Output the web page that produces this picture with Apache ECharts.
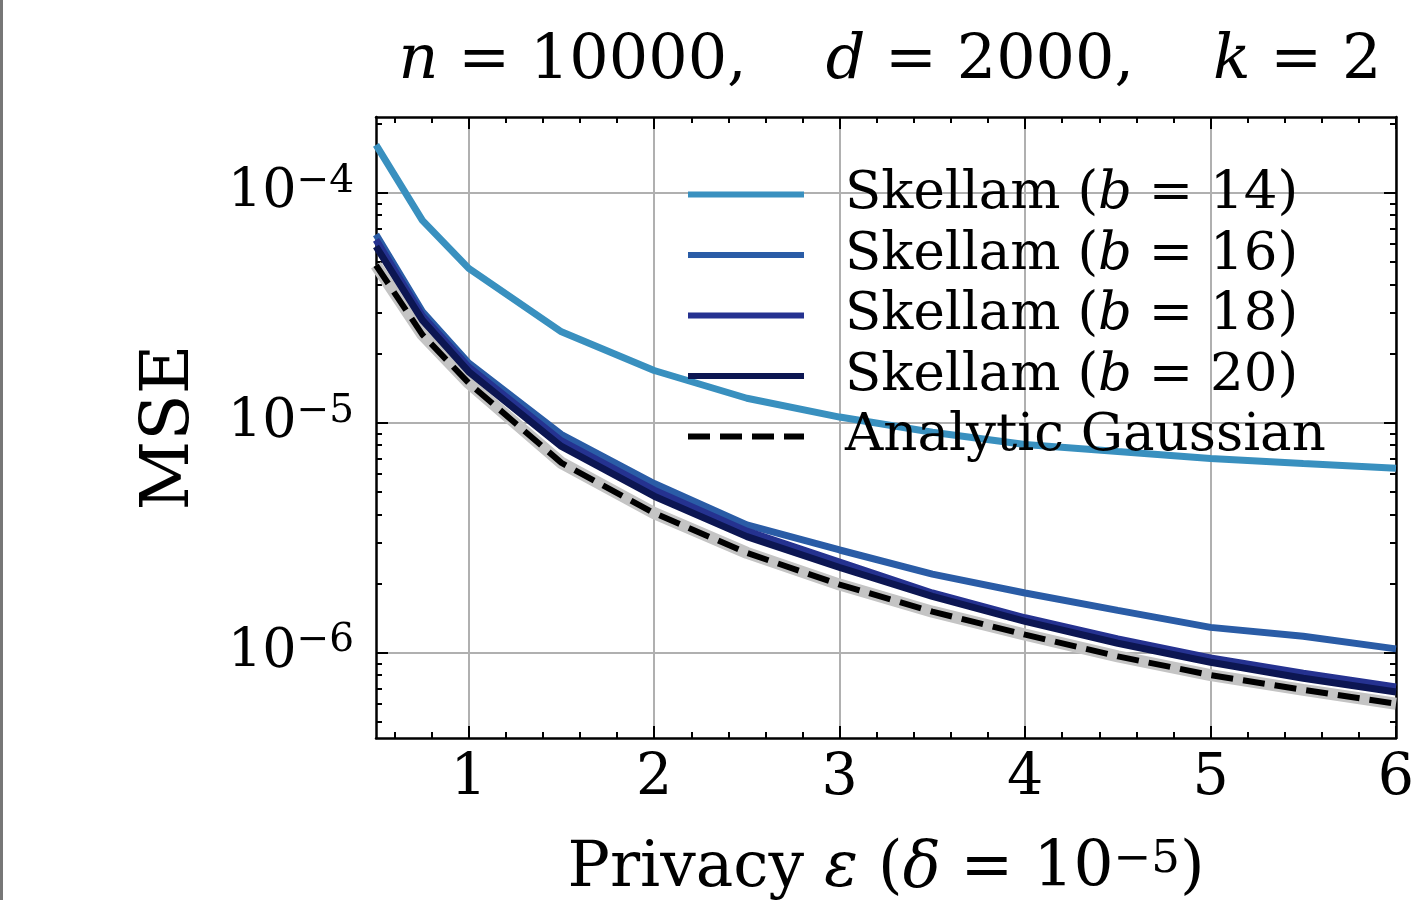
<!DOCTYPE html>
<html>

<head>
    <meta charset="utf-8">
    <script src="https://cdn.jsdelivr.net/npm/echarts@6/dist/echarts.min.js"></script>
</head>

<body style="margin: 0; background: #fff;">
<div id="echartsMain" style="width: 1419px; height: 900px;"></div>
</body>

</html>

<script type="text/javascript">
    // privacy epsilon values
    let eps = [0.5, 0.75, 1, 1.5, 2, 2.5, 3, 3.5, 4, 4.5, 5, 5.5, 6]

    let skellam14 = [1.62e-4, 7.6e-5, 4.7e-5, 2.49e-5, 1.69e-5, 1.28e-5, 1.06e-5, 9.1e-6, 8.05e-6, 7.5e-6, 7.0e-6, 6.65e-6, 6.35e-6]
    let skellam16 = [6.6e-5, 3.05e-5, 1.82e-5, 8.9e-6, 5.45e-6, 3.6e-6, 2.8e-6, 2.2e-6, 1.82e-6, 1.53e-6, 1.29e-6, 1.18e-6, 1.04e-6]
    let skellam18 = [6.25e-5, 2.92e-5, 1.75e-5, 8.35e-6, 5.1e-6, 3.38e-6, 2.48e-6, 1.82e-6, 1.42e-6, 1.15e-6, 9.5e-7, 8.15e-7, 7.1e-7]
    let skellam20 = [5.85e-5, 2.8e-5, 1.67e-5, 7.9e-6, 4.8e-6, 3.2e-6, 2.35e-6, 1.76e-6, 1.37e-6, 1.1e-6, 9.1e-7, 7.75e-7, 6.75e-7]
    let gaussian = [4.85e-5, 2.42e-5, 1.49e-5, 6.7e-6, 4.05e-6, 2.72e-6, 1.98e-6, 1.51e-6, 1.2e-6, 9.65e-7, 8.0e-7, 6.9e-7, 6.0e-7]

    let xMajor = [1, 2, 3, 4, 5, 6]
    let xMinor = [0.6, 0.8, 1.2, 1.4, 1.6, 1.8, 2.2, 2.4, 2.6, 2.8, 3.2, 3.4, 3.6, 3.8,
        4.2, 4.4, 4.6, 4.8, 5.2, 5.4, 5.6, 5.8]
    let yMajor = [1e-6, 1e-5, 1e-4]
    let yMinor = [5e-7, 6e-7, 7e-7, 8e-7, 9e-7,
        2e-6, 3e-6, 4e-6, 5e-6, 6e-6, 7e-6, 8e-6, 9e-6,
        2e-5, 3e-5, 4e-5, 5e-5, 6e-5, 7e-5, 8e-5, 9e-5, 2e-4]

    let names = ['Skellam (b = 14)', 'Skellam (b = 16)', 'Skellam (b = 18)', 'Skellam (b = 20)', 'Analytic Gaussian']
    let colors = ['#3990bf', '#2a5ca6', '#253290', '#0c1652', '#000000']

    function draw() {
        let myChart = echarts.init(document.getElementById('echartsMain'));
        let serif = 'DejaVu Serif'

        function pairs(ys) {
            return eps.map((x, i) => [x, ys[i]])
        }

        function xAxis(pos, ticks, len, main) {
            return {
                type: 'value', position: pos, min: 0.5, max: 6,
                axisLine: {show: main, onZero: false, lineStyle: {color: '#000', width: 2.5}},
                axisTick: {show: true, inside: true, length: len, customValues: ticks, lineStyle: {color: '#000', width: 2}},
                axisLabel: main && pos === 'bottom' ? {
                    customValues: xMajor, fontFamily: serif, fontSize: 57, color: '#000', margin: 13
                } : {show: false},
                splitLine: main && pos === 'bottom' ? {show: true, lineStyle: {color: '#b0b0b0', width: 2}} : {show: false}
            }
        }

        function yAxis(pos, ticks, len, main) {
            return {
                type: 'log', logBase: 10, position: pos, min: 4.26e-7, max: 2.14e-4,
                axisLine: {show: main, onZero: false, lineStyle: {color: '#000', width: 2.5}},
                axisTick: {show: true, inside: true, length: len, customValues: ticks, lineStyle: {color: '#000', width: 2}},
                axisLabel: main && pos === 'left' ? {
                    customValues: yMajor, margin: 22,
                    formatter: function (v) {
                        return '{b|10}{s|−' + Math.round(-Math.log10(v)) + '}'
                    },
                    rich: {
                        b: {fontFamily: serif, fontSize: 54, color: '#000', lineHeight: 62},
                        s: {fontFamily: serif, fontSize: 39, color: '#000', lineHeight: 36, verticalAlign: 'top'}
                    }
                } : {show: false},
                splitLine: main && pos === 'left' ? {show: true, lineStyle: {color: '#b0b0b0', width: 2}} : {show: false}
            }
        }

        let xAxes = [xAxis('bottom', xMajor, 12, true), xAxis('bottom', xMinor, 6, false),
            xAxis('top', xMajor, 12, true), xAxis('top', xMinor, 6, false)]
        xAxes[0].name = 'Privacy {i|ε} ({i|δ} = 10{s|−5})'
        xAxes[0].nameLocation = 'middle'
        xAxes[0].nameGap = 100
        xAxes[0].nameTextStyle = {
            fontFamily: serif, fontSize: 63, color: '#000',
            rich: {
                i: {fontFamily: serif, fontStyle: 'italic', fontSize: 63, color: '#000'},
                s: {fontFamily: serif, fontSize: 45, color: '#000', verticalAlign: 'top', lineHeight: 40}
            }
        }

        let yAxes = [yAxis('left', yMajor, 12, true), yAxis('left', yMinor, 6, false),
            yAxis('right', yMajor, 12, true), yAxis('right', yMinor, 6, false)]
        yAxes[0].name = 'MSE'
        yAxes[0].nameLocation = 'middle'
        yAxes[0].nameGap = 172
        yAxes[0].nameTextStyle = {fontFamily: serif, fontSize: 68, color: '#000'}

        let series = []
        let data = [skellam14, skellam16, skellam18, skellam20]
        // grey band under the analytic gaussian line
        series.push({
            name: 'band', type: 'line', data: pairs(gaussian), symbol: 'none', silent: true,
            lineStyle: {color: '#c4c4c4', width: 12}, z: 2
        })
        data.forEach((d, i) => {
            series.push({
                name: names[i], type: 'line', data: pairs(d), symbol: 'none',
                lineStyle: {color: colors[i], width: 7}, itemStyle: {color: colors[i]}, z: 3
            })
        })
        series.push({
            name: names[4], type: 'line', data: pairs(gaussian), symbol: 'none',
            lineStyle: {color: '#000', width: 6, type: [22, 10]}, itemStyle: {color: '#000'}, z: 4
        })

        var option = {
            animation: false,
            title: {
                text: '{i|n} = 10000,    {i|d} = 2000,    {i|k} = 2',
                left: 885, top: 26, textAlign: 'center',
                textStyle: {
                    fontFamily: serif, fontSize: 62, fontWeight: 'normal', color: '#000',
                    rich: {i: {fontFamily: serif, fontStyle: 'italic', fontSize: 62, color: '#000'}}
                }
            },
            grid: {left: 376, right: 23, top: 117, bottom: 162, outerBoundsMode: 'none'},
            legend: {
                data: names, orient: 'vertical', left: 680, top: 163,
                itemWidth: 116, itemHeight: 14, itemGap: 7.5,
                itemStyle: {opacity: 0},
                lineStyle: {width: 6},
                formatter: function (n) {
                    return n.replace('(b', '({i|b}')
                },
                textStyle: {
                    fontFamily: serif, fontSize: 53, color: '#000', lineHeight: 52, padding: [0, 0, 0, 36],
                    rich: {i: {fontFamily: serif, fontStyle: 'italic', fontSize: 53, color: '#000'}}
                }
            },
            graphic: [{type: 'rect', shape: {x: 0, y: 0, width: 3, height: 900}, style: {fill: '#777'}}],
            xAxis: xAxes,
            yAxis: yAxes,
            series: series
        };
        myChart.setOption(option);
    }

    draw()
</script>
